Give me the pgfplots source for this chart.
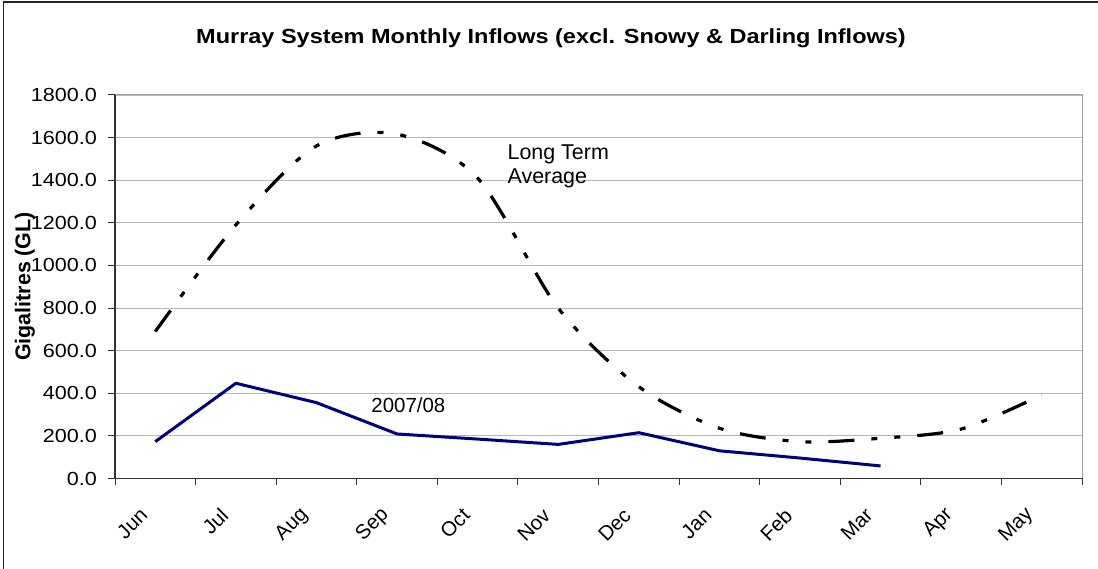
\documentclass[border=0pt]{standalone}
\usepackage{pgfplots}
\pgfplotsset{compat=1.18}
\usepackage{fontspec}
\setmainfont{Liberation Sans}
\definecolor{navyline}{RGB}{0,0,128}
\begin{document}
\begin{tikzpicture}[x=1bp,y=1bp]
\useasboundingbox (0,0) rectangle (1098,569);
\draw[line width=1.4bp, black!85] (3.3,0) -- (3.3,566.8) -- (1098,566.8);
\node[font=\fontsize{20.5}{24}\selectfont\bfseries, xscale=1.15] at (551,531) {Murray System Monthly Inflows (excl. Snowy \& Darling Inflows)};
\node[font=\fontsize{21.5}{24}\selectfont\bfseries, rotate=90] at (25,282.5) {Gigalitres (GL)};
\begin{axis}[
  at={(115bp,90.5bp)}, anchor=south west,
  scale only axis, width=967bp, height=383.5bp,
  xmin=-0.5, xmax=11.5, ymin=0, ymax=1800,
  axis line style={draw=gray!75, line width=1bp},
  ytick={0,200,...,1800},
  ymajorgrids, grid style={gray!55, line width=0.9bp},
  /pgf/number format/fixed,
  /pgf/number format/fixed zerofill,
  /pgf/number format/precision=1,
  /pgf/number format/1000 sep={},
  /pgf/number format/assume math mode=true,
  yticklabel style={font=\fontsize{19}{23}\selectfont, xshift=-7bp, xscale=1.14},
  xtick={0,...,11},
  xticklabels={Jun,Jul,Aug,Sep,Oct,Nov,Dec,Jan,Feb,Mar,Apr,May},
  xticklabel style={font=\fontsize{20.5}{23}\selectfont, xshift=-9bp, yshift=-24bp, rotate=45, anchor=east},
  x tick style={draw=none},
  extra x ticks={-0.5,0.5,...,11.5},
  extra x tick labels={},
  extra x tick style={x tick style={draw=black!80, line width=1bp}, grid=none},
  y tick style={draw=black!80, line width=1bp},
  tick align=outside, major tick length=7bp,
  tick pos=left,
  clip=false,
  after end axis/.code={
    \draw[black!80, line width=1.3bp] (rel axis cs:0,1) -- (rel axis cs:0,0) -- (rel axis cs:1,0);
  },
]
\addplot[navyline, line width=3bp, line join=round] coordinates {
 (0,173) (1,447) (2,356) (3,209) (4,185) (5,160) (6,215) (7,130) (8,96) (9,59)
};
\addplot[black, line width=3.2bp, smooth, tension=0.5, dash pattern=on 26bp off 17bp on 6bp off 17bp on 6bp off 17bp] coordinates {
 (0,690) (1,1190) (2,1561) (3,1616) (4,1410) (5,800) (6,431) (7,236) (8,173) (9,189) (10,232) (11,392)
};
\node[font=\fontsize{21.5}{23}\selectfont, align=left, anchor=north west, inner sep=0pt] at (axis cs:4.37,1565) {Long Term\\[1bp]Average};
\node[font=\fontsize{20.5}{22}\selectfont, anchor=west, inner sep=0pt] at (axis cs:2.68,345) {2007/08};
\end{axis}
\end{tikzpicture}
\end{document}
